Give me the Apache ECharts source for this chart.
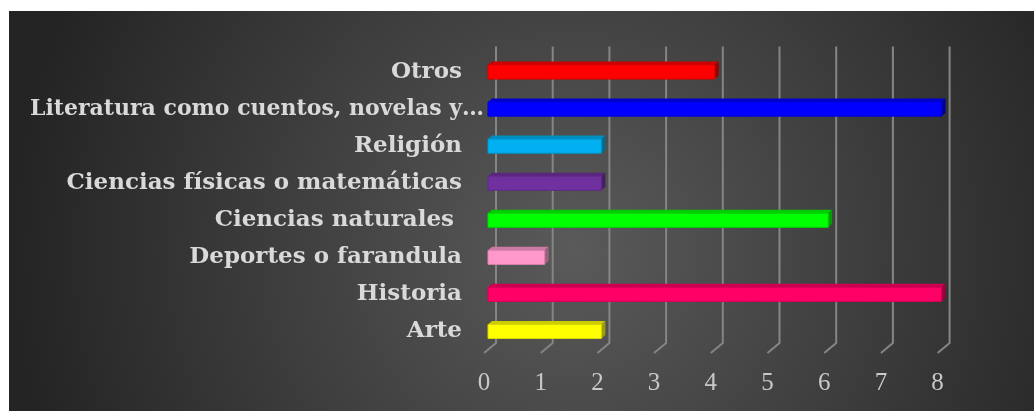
<!DOCTYPE html>
<html>
<head>
<meta charset="utf-8">
<script src="https://cdn.jsdelivr.net/npm/echarts@6/dist/echarts.min.js"></script>
<style>
    html, body { margin: 0; padding: 0; background: #ffffff; }
    #chart { width: 1034px; height: 411px; }
</style>
</head>
<body>
<div id="chart"></div>
<script>
// categories bottom -> top
var categories = ['Arte', 'Historia', 'Deportes o farandula', 'Ciencias naturales ',
    'Ciencias físicas o matemáticas', 'Religión', 'Literatura como cuentos, novelas y…', 'Otros'];
var values = [2, 8, 1, 6, 2, 2, 8, 4];
var barColors = ['#FFFF00', '#FF0066', '#FF99CC', '#00FF00', '#7030A0', '#00B0F0', '#0000FF', '#FF0000'];
var xTicks = [0, 1, 2, 3, 4, 5, 6, 7, 8];

// darker shade of a hex colour
function shade(hex, k) {
    var n = parseInt(hex.slice(1), 16);
    var r = Math.round(((n >> 16) & 255) * k);
    var g = Math.round(((n >> 8) & 255) * k);
    var b = Math.round((n & 255) * k);
    return 'rgb(' + r + ',' + g + ',' + b + ')';
}

var depth = [4, -3.5]; // bar depth in px

var catData = categories.map(function (c, i) {
    // the long label hangs past the others, like in the original
    if (i === 6) {
        return { value: c, textStyle: { fontSize: 22, padding: [12, -22, 0, 0] } };
    }
    return c;
});

var option = {
    backgroundColor: '#ffffff',
    animation: false,
    graphic: [{
        type: 'rect',
        z: -10,
        silent: true,
        shape: { x: 9, y: 11, width: 1025, height: 400 },
        style: {
            fill: {
                type: 'radial', x: 0.55, y: 0.6, r: 1.4,
                colorStops: [
                    { offset: 0, color: '#5a5a5a' },
                    { offset: 1, color: '#242424' }
                ]
            }
        }
    }],
    grid: { left: 488, right: 92.4, top: 53.5, bottom: 61 },
    xAxis: {
        type: 'value',
        min: 0,
        max: 8,
        interval: 1,
        axisLine: { show: false },
        axisTick: { show: false },
        splitLine: { show: false },
        axisLabel: {
            margin: 21,
            color: '#c8c8c8',
            fontFamily: 'Liberation Serif',
            fontSize: 25,
            padding: [0, 8, 0, 0]
        }
    },
    yAxis: {
        type: 'category',
        data: catData,
        axisLine: { show: false },
        axisTick: { show: false },
        axisLabel: {
            margin: 26,
            color: '#d9d9d9',
            fontFamily: 'DejaVu Serif',
            fontWeight: 'bold',
            fontSize: 23,
            padding: [12, 0, 0, 0]
        }
    },
    series: [{
        // 3D gridlines: back wall + floor edge
        type: 'custom',
        silent: true,
        data: xTicks.map(function (t) { return [t, 0]; }),
        encode: { x: 0, y: 1 },
        renderItem: function (params, api) {
            var cs = params.coordSys;
            var x = api.coord([api.value(0), 0])[0];
            var bottom = cs.y + cs.height;
            return {
                type: 'polyline',
                shape: { points: [[x + 8, cs.y - 7], [x + 8, bottom - 7], [x - 4, bottom + 3]] },
                style: { stroke: '#858585', lineWidth: 2, fill: null }
            };
        }
    }, {
        type: 'custom',
        data: values.map(function (v, i) { return [v, i]; }),
        encode: { x: 0, y: 1 },
        renderItem: function (params, api) {
            var idx = api.value(1);
            var p0 = api.coord([0, idx]);
            var p1 = api.coord([api.value(0), idx]);
            var h = api.size([0, 1])[1] * 0.38;
            var c = barColors[params.dataIndex];
            var x0 = p0[0], x1 = p1[0];
            var yT = p0[1] - h / 2, yB = p0[1] + h / 2;
            var dx = depth[0], dy = depth[1];
            return {
                type: 'group',
                children: [{
                    type: 'polygon',
                    shape: { points: [[x0, yT], [x0 + dx, yT + dy], [x1 + dx, yT + dy], [x1, yT]] },
                    style: { fill: shade(c, 0.8) }
                }, {
                    type: 'polygon',
                    shape: { points: [[x1, yT], [x1 + dx, yT + dy], [x1 + dx, yB + dy], [x1, yB]] },
                    style: { fill: shade(c, 0.62) }
                }, {
                    type: 'rect',
                    shape: { x: x0, y: yT, width: x1 - x0, height: h },
                    style: { fill: c, stroke: shade(c, 0.85), lineWidth: 1 }
                }]
            };
        }
    }]
};

var myChart = echarts.init(document.getElementById('chart'));
myChart.setOption(option);
</script>
</body>
</html>
